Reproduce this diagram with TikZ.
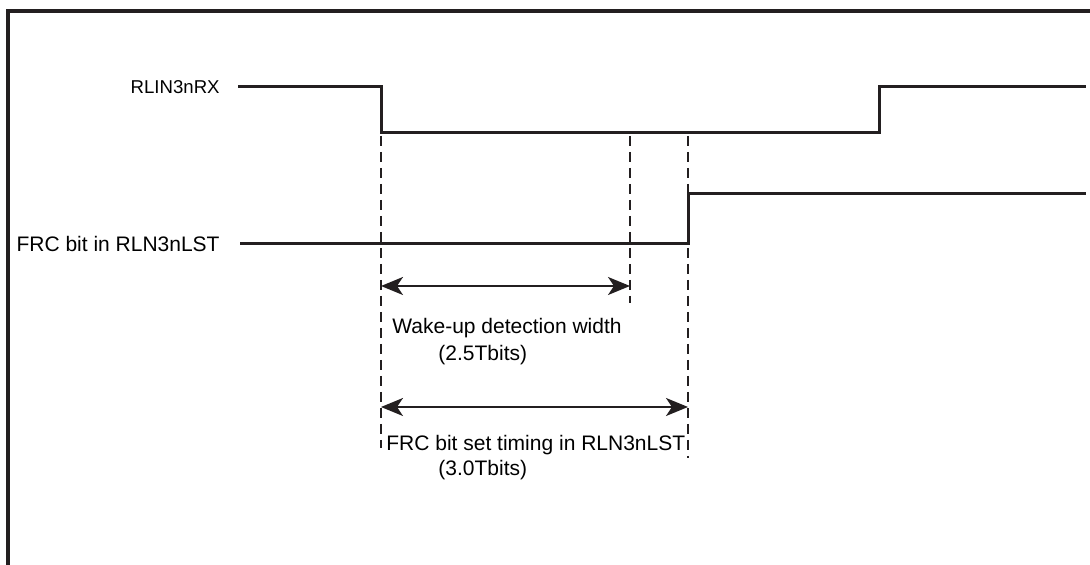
\documentclass[tikz,border=0pt]{standalone}
\usepackage{fontspec}
\setmainfont{Liberation Sans}
\usetikzlibrary{arrows.meta}
\definecolor{tinta}{HTML}{231F20}
\tikzset{
  sig/.style={tinta,line width=1.5pt,line join=miter},
  guia/.style={tinta,line width=0.6pt,dash pattern=on 5pt off 3pt},
  cota/.style={tinta,line width=1.1pt,{Stealth[length=11pt,width=9pt,inset=3pt]}-{Stealth[length=11pt,width=9pt,inset=3pt]}},
  rotulo/.style={inner sep=0pt,anchor=west,font=\fontsize{10.5}{12}\selectfont}
}

\begin{document}
\begin{tikzpicture}[x=0.5pt,y=-0.5pt]
          \useasboundingbox (0,0) rectangle (1090,565);
          % marco
          \draw[tinta,line width=1.6pt] (8,565) -- (8,11) -- (1090,11);
          % instantes
          \coordinate (tA) at (381,0);
          \coordinate (tB) at (630,0);
          \coordinate (tC) at (688,0);
          \coordinate (tD) at (879,0);
          % senales
          \node[inner sep=0pt,anchor=east,font=\fontsize{9.3}{11}\selectfont] (rxtxt) at (220,87) {RLIN3nRX};
          \node[inner sep=0pt,anchor=east,font=\fontsize{10.5}{12}\selectfont] (frctxt) at (220,244) {FRC bit in RLN3nLST};
          \draw[sig] (238,87) -- (tA |- 0,87) -- (tA |- 0,133) -- (tD |- 0,133) -- (tD |- 0,87) -- (1086,87);
          \draw[sig] (240,244) -- (tC |- 0,244) -- (tC |- 0,194) -- (1086,194);
          % guias
          \draw[guia] (tA |- 0,136) -- (tA |- 0,448);
          \draw[guia] (tB |- 0,136) -- (tB |- 0,303);
          \draw[guia] (tC |- 0,136) -- (tC |- 0,458);
          % cotas
          \coordinate (wA) at (tA |- 0,286);
          \coordinate (wB) at (tB |- 0,286);
          \coordinate (fA) at (tA |- 0,407);
          \coordinate (fC) at (tC |- 0,407);
          \draw[cota] (wA) -- (wB);
          \draw[cota] (fA) -- (fC);
          \node[rotulo] (wtxt) at (392,328) {Wake-up detection width};
          \node[rotulo] (wval) at (438,355) {(2.5Tbits)};
          \node[rotulo] (ftxt) at (386,445) {FRC bit set timing in RLN3nLST};
          \node[rotulo] (fval) at (438,470) {(3.0Tbits)};
        \end{tikzpicture}
\end{document}
